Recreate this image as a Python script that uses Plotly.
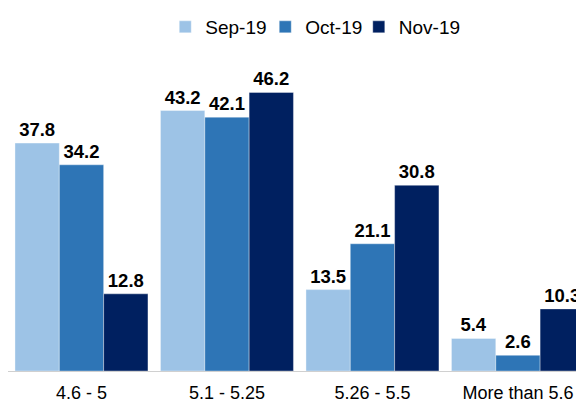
import plotly.graph_objects as go

categories = ['4.6 - 5', '5.1 - 5.25', '5.26 - 5.5', 'More than 5.6']
series_names = ['Sep-19', 'Oct-19', 'Nov-19']
sep_19 = [37.8, 43.2, 13.5, 5.4]
oct_19 = [34.2, 42.1, 21.1, 2.6]
nov_19 = [12.8, 46.2, 30.8, 10.3]
colors = ['#9DC3E6', '#2E75B6', '#002060']
# Nov-19 goes in a second legend so its label is not clipped by entrywidth
legend_refs = ['legend', 'legend', 'legend2']

fig = go.Figure()
for name, vals, color, lg in zip(series_names, [sep_19, oct_19, nov_19], colors, legend_refs):
    fig.add_bar(x=categories, y=vals, name=name, legend=lg,
                marker=dict(color=color, line=dict(color='rgba(255,255,255,0.6)', width=0.6)),
                text=[f'{v:.1f}' for v in vals], textposition='outside',
                textfont=dict(family='Liberation Sans, Arial', size=18.5, color='#000000'),
                texttemplate='<b>%{text}</b>', cliponaxis=False, constraintext='none')

# the page body adds an 8px margin, so the figure is sized to fit inside it.
# plot area runs from the top down to the baseline; legends sit inside it
fig.update_layout(
    width=576, height=395,
    margin=dict(l=0, r=0, t=0, b=32),
    paper_bgcolor='white', plot_bgcolor='white',
    barmode='group', bargap=0.086, bargroupgap=0,
    font=dict(family='Liberation Sans, Arial', size=18, color='#000000'),
    legend=dict(orientation='h', x=0.273, xanchor='left', y=0.967, yanchor='middle',
                font=dict(size=19), itemwidth=30, traceorder='normal',
                entrywidth=55, entrywidthmode='pixels',
                bgcolor='rgba(0,0,0,0)'),
    legend2=dict(orientation='h', x=0.609, xanchor='left', y=0.967, yanchor='middle',
                 font=dict(size=19), itemwidth=30,
                 bgcolor='rgba(0,0,0,0)'),
    showlegend=True,
)
fig.update_xaxes(range=[-0.505, 3.454], showline=True, linecolor='#D0D0D0', linewidth=1,
                 ticks='', tickfont=dict(size=18), showgrid=False,
                 ticklabelstandoff=5, automargin=False)
fig.update_yaxes(range=[0, 59.05], visible=False, showgrid=False, automargin=False)

fig.write_html("out.html")
